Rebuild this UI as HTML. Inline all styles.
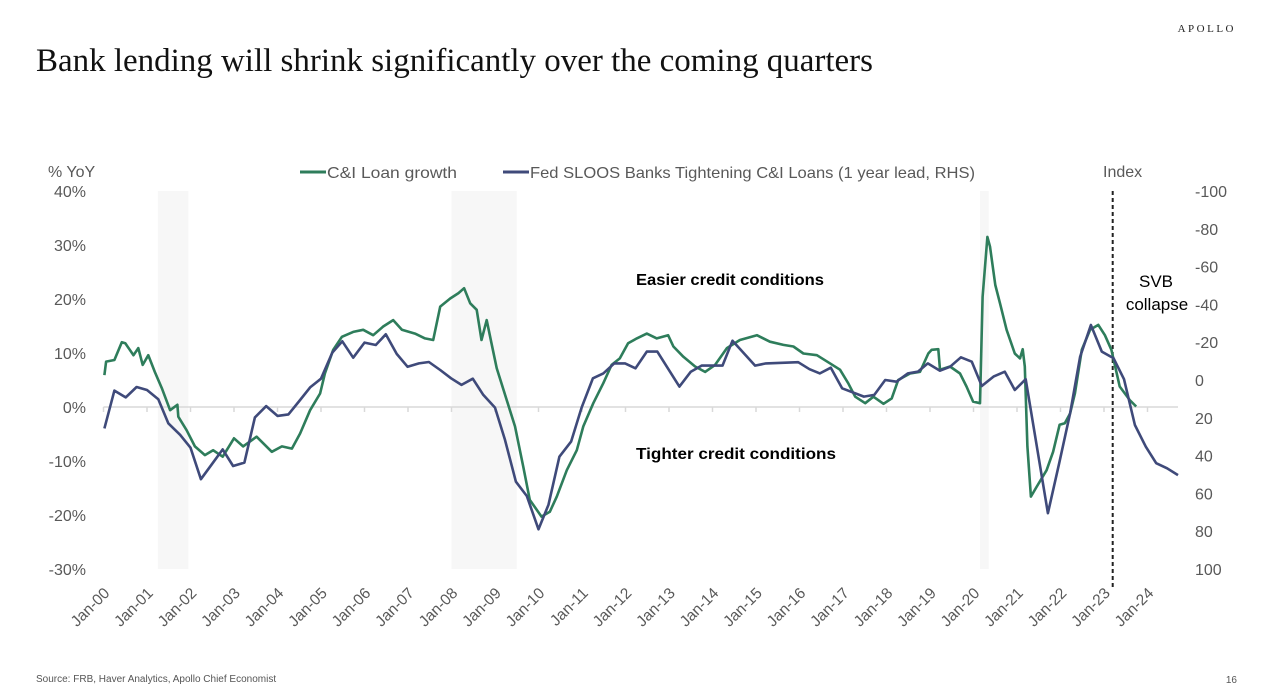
<!DOCTYPE html>
<html><head><meta charset="utf-8"><style>
body{margin:0;background:#fff;width:1264px;height:696px;overflow:hidden;font-family:"Liberation Sans",sans-serif}
svg{position:absolute;left:0;top:0}
</style></head><body>
<svg id="c" width="1264" height="696" viewBox="0 0 1264 696" xmlns="http://www.w3.org/2000/svg">
<text x="36" y="71" font-family="Liberation Serif,serif" font-size="33" textLength="837" lengthAdjust="spacingAndGlyphs" fill="#111">Bank lending will shrink significantly over the coming quarters</text>
<text x="1236" y="32" text-anchor="end" font-family="Liberation Serif,serif" font-size="11" letter-spacing="2.5" fill="#222">APOLLO</text>
<text x="48" y="177" font-size="16" fill="#595959">% YoY</text>
<text x="1103" y="177" font-size="16" fill="#595959">Index</text>
<line x1="300" y1="172" x2="326" y2="172" stroke="#2e7d5b" stroke-width="3"/>
<text x="327" y="178" font-size="16" textLength="130" lengthAdjust="spacingAndGlyphs" fill="#595959">C&amp;I Loan growth</text>
<line x1="503" y1="172" x2="529" y2="172" stroke="#3f4a7a" stroke-width="3"/>
<text x="530" y="178" font-size="16" textLength="445" lengthAdjust="spacingAndGlyphs" fill="#595959">Fed SLOOS Banks Tightening C&amp;I Loans (1 year lead, RHS)</text>
<g id="shade"></g><g id="axes"></g><g id="lines"></g>
<text x="636" y="285" font-size="16" font-weight="bold" textLength="188" lengthAdjust="spacingAndGlyphs" fill="#000">Easier credit conditions</text>
<text x="636" y="459" font-size="16" font-weight="bold" textLength="200" lengthAdjust="spacingAndGlyphs" fill="#000">Tighter credit conditions</text>
<text x="1156" y="287" text-anchor="middle" font-size="17" fill="#000">SVB</text>
<text x="1157" y="310" text-anchor="middle" font-size="17" fill="#000">collapse</text>
<text x="36" y="682" font-size="10" fill="#555">Source: FRB, Haver Analytics, Apollo Chief Economist</text>
<text x="1237" y="683" text-anchor="end" font-size="10" fill="#555">16</text>
</svg>
<script>
const leftTicks=[40,30,20,10,0,-10,-20,-30];
const rightTicks=[-100,-80,-60,-40,-20,0,20,40,60,80,100];
const yearLabels=["Jan-00","Jan-01","Jan-02","Jan-03","Jan-04","Jan-05","Jan-06","Jan-07","Jan-08","Jan-09","Jan-10","Jan-11","Jan-12","Jan-13","Jan-14","Jan-15","Jan-16","Jan-17","Jan-18","Jan-19","Jan-20","Jan-21","Jan-22","Jan-23","Jan-24"];
const recessions=[[1.25,1.95],[8.0,9.5],[20.15,20.35]];
const svbDate=23.2;
const loanT=[0.02,0.06,0.25,0.42,0.5,0.69,0.8,0.9,1.03,1.18,1.34,1.53,1.7,1.72,1.91,2.1,2.33,2.52,2.74,3.0,3.21,3.52,3.87,4.1,4.33,4.52,4.75,4.98,5.09,5.28,5.48,5.74,5.97,6.2,6.43,6.66,6.86,7.16,7.39,7.58,7.74,7.97,8.16,8.29,8.43,8.58,8.69,8.81,8.92,9.04,9.27,9.46,9.65,9.8,10.07,10.26,10.42,10.65,10.88,11.03,11.26,11.49,11.68,11.87,12.06,12.26,12.49,12.72,12.98,13.1,13.33,13.6,13.83,14.06,14.33,14.63,15.02,15.32,15.63,15.86,16.09,16.4,16.7,16.93,17.12,17.28,17.51,17.7,17.93,18.12,18.27,18.54,18.77,18.96,19.04,19.19,19.23,19.46,19.69,19.84,19.99,20.15,20.21,20.32,20.38,20.5,20.61,20.76,20.95,21.07,21.13,21.18,21.24,21.32,21.45,21.68,21.83,21.98,22.1,22.22,22.33,22.49,22.68,22.87,23.02,23.17,23.36,23.59,23.74];
const loanV=[5.9,8.4,8.7,12.0,11.8,9.6,10.9,7.8,9.6,6.5,3.5,-0.6,0.4,-1.8,-4.3,-7.3,-8.9,-8.0,-9.2,-5.8,-7.3,-5.5,-8.3,-7.3,-7.7,-4.9,-0.6,2.5,6.2,10.6,13.0,13.9,14.3,13.3,14.9,16.1,14.3,13.6,12.7,12.4,18.6,20.1,21.1,22.0,19.2,18.0,12.4,16.1,11.8,7.2,1.3,-3.6,-11.1,-17.2,-20.3,-19.4,-16.6,-11.7,-8.0,-3.6,0.7,4.4,7.8,9.0,11.8,12.7,13.6,12.7,13.3,11.2,9.3,7.5,6.5,7.8,10.9,12.4,13.3,12.1,11.5,11.2,9.9,9.6,8.1,6.9,4.4,1.9,0.7,1.9,0.6,1.6,5.0,6.2,6.5,9.9,10.6,10.7,6.9,7.5,6.2,3.8,1.0,0.7,20.4,31.5,29.7,22.6,19.2,14.3,9.9,9.0,10.7,7.5,-7.3,-16.6,-14.8,-11.7,-8.3,-3.3,-3.0,-1.2,2.5,10.6,14.3,15.2,13.3,10.6,3.8,1.3,0.1];
const sloosT=[0.02,0.25,0.51,0.76,1.0,1.26,1.49,1.76,2.0,2.24,2.49,2.74,2.98,3.24,3.48,3.74,4.0,4.25,4.5,4.75,5.0,5.26,5.49,5.74,6.0,6.26,6.49,6.74,6.99,7.25,7.48,7.74,7.99,8.23,8.49,8.73,9.0,9.23,9.48,9.73,10.0,10.23,10.48,10.75,10.99,11.25,11.49,11.74,11.99,12.23,12.49,12.73,13.24,13.5,13.75,14.23,14.46,14.98,15.23,15.97,16.23,16.47,16.72,16.98,17.48,17.72,17.97,18.23,18.49,18.72,18.95,19.23,19.46,19.71,19.96,20.19,20.46,20.72,20.95,21.2,21.71,21.97,22.22,22.45,22.7,22.95,23.22,23.46,23.71,23.96,24.2,24.45,24.7];
const sloosV=[25.6,5.6,9.2,3.7,5.3,10.2,22.9,29,35.8,52.5,44.6,36.7,45.5,43.7,19.8,13.8,19,18.2,11.1,3.9,-0.7,-14.5,-20.5,-11.8,-19.8,-18.5,-24.2,-13.8,-7,-8.8,-9.5,-5.3,-0.9,2.6,-0.7,7.9,14.6,31.7,53.8,61.4,79,66,40.6,32.6,14.6,-0.9,-3.5,-8.8,-8.8,-6.2,-15,-15,3.5,-4.4,-7.6,-7.6,-20.8,-7.6,-8.8,-9.4,-5.7,-3.5,-6.5,4.4,8.8,7.9,0,0.9,-3.5,-4.4,-8.8,-4.9,-7,-12,-9.7,3.2,-1.8,-4.4,5.3,-0.4,70.5,44,17.6,-12.3,-29.1,-15,-11.5,-0.4,23.8,35.3,44,46.7,50.3];

const NS="http://www.w3.org/2000/svg";
const X=t=>103.5+t*43.5;
const YL=v=>407-v*5.4;
const YR=v=>380+v*1.89;
const PT=191,PB=569;
function mk(tag,attrs,parent){const e=document.createElementNS(NS,tag);for(const k in attrs)e.setAttribute(k,attrs[k]);parent.appendChild(e);return e;}
const shade=document.getElementById('shade'),axes=document.getElementById('axes'),lines=document.getElementById('lines');
recessions.forEach(r=>{
  const e=mk('rect',{x:X(r[0]),y:PT,width:X(r[1])-X(r[0]),height:PB-PT,fill:'#f7f7f7'},shade);
  
  
});
const zl=mk('line',{x1:X(0),x2:1178,y1:YL(0),y2:YL(0),stroke:'#d9d9d9','stroke-width':1.5},axes);


leftTicks.forEach(v=>{
  const e=mk('text',{x:86,y:YL(v)+6,'text-anchor':'end','font-size':16,fill:'#595959'},axes);
  e.textContent=v+'%';
  
  
});
rightTicks.forEach(v=>{
  const e=mk('text',{x:1195,y:YR(v)+6,'font-size':16,fill:'#595959'},axes);
  e.textContent=v;
  
  
});
yearLabels.forEach((l,i)=>{
  const x=X(i);
  const tk=mk('line',{x1:x,x2:x,y1:YL(0),y2:YL(0)+5,stroke:'#d9d9d9','stroke-width':1.5},axes);
  
  
  const e=mk('text',{x:x+7,y:594,'text-anchor':'end','font-size':15.5,fill:'#595959',transform:`rotate(-45 ${x+7} 594)`},axes);
  e.textContent=l;
  
  
});
const dl=mk('line',{x1:X(svbDate),x2:X(svbDate),y1:PT,y2:587,stroke:'#222','stroke-width':2,'stroke-dasharray':'4,3'},axes);


function path(ts,vs,yf,col,name){
  const d=ts.map((t,i)=>(i?'L':'M')+X(t).toFixed(1)+','+yf(vs[i]).toFixed(1)).join('');
  const e=mk('path',{d:d,fill:'none',stroke:col,'stroke-width':2.6,'stroke-linejoin':'round'},lines);
  
  
}
path(loanT,loanV,YL,'#2e7d5b','loan-growth-line');
path(sloosT,sloosV,YR,'#3f4a7a','sloos-tightening-line');
</script>
</body></html>
